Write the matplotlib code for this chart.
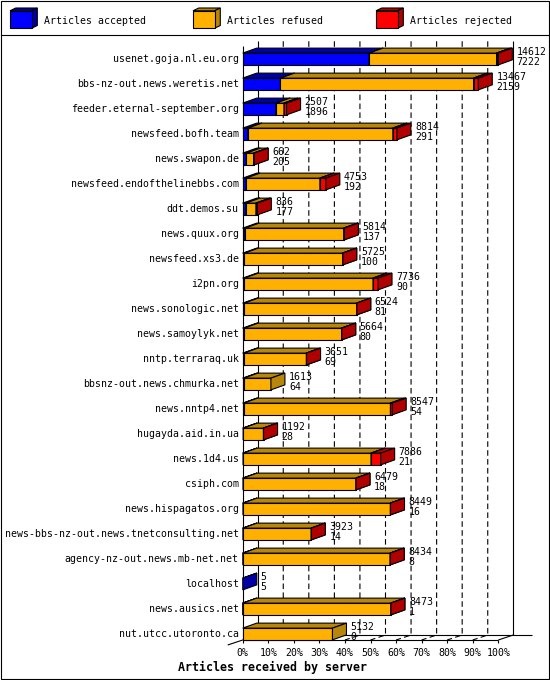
import matplotlib
matplotlib.use("Agg")
import matplotlib.pyplot as plt
from matplotlib.patches import Polygon, Rectangle
from matplotlib.lines import Line2D

# ---------------- data ----------------
servers = [
    "usenet.goja.nl.eu.org", "bbs-nz-out.news.weretis.net", "feeder.eternal-september.org",
    "newsfeed.bofh.team", "news.swapon.de", "newsfeed.endofthelinebbs.com", "ddt.demos.su",
    "news.quux.org", "newsfeed.xs3.de", "i2pn.org", "news.sonologic.net", "news.samoylyk.net",
    "nntp.terraraq.uk", "bbsnz-out.news.chmurka.net", "news.nntp4.net", "hugayda.aid.in.ua",
    "news.1d4.us", "csiph.com", "news.hispagatos.org", "news-bbs-nz-out.news.tnetconsulting.net",
    "agency-nz-out.news.mb-net.net", "localhost", "news.ausics.net", "nut.utcc.utoronto.ca",
]
totals = [14612, 13467, 2507, 8814, 662, 4753, 836, 5814, 5725, 7736, 6524, 5664,
          3651, 1613, 8547, 1192, 7886, 6479, 8449, 3923, 8434, 5, 8473, 5132]
accepted = [7222, 2159, 1896, 291, 205, 192, 177, 137, 100, 90, 81, 80,
            69, 64, 54, 28, 21, 18, 16, 14, 8, 5, 1, 0]
refused = [7290, 11038, 461, 8293, 417, 4221, 579, 5637, 5610, 7361, 6433, 5574,
           3572, 1549, 8393, 1159, 7315, 6456, 8428, 3904, 8421, 0, 8469, 5132]
rejected = [100, 270, 150, 230, 40, 340, 80, 40, 15, 285, 10, 10,
            10, 0, 100, 5, 550, 5, 5, 5, 5, 0, 3, 0]
series_names = ["Articles accepted", "Articles refused", "Articles rejected"]
tick_labels = ["0%", "10%", "20%", "30%", "40%", "50%", "60%", "70%", "80%", "90%", "100%"]
x_title = "Articles received by server"

# ---------------- style ----------------
front_colors = ["#0000FF", "#FFB000", "#FF0000"]
dark_colors = ["#0000A8", "#B8860B", "#B00000"]
FONT = "DejaVu Sans Mono"
FS = 7.15
LW = 0.8
W, H = 550, 680

fig = plt.figure(figsize=(W / 100, H / 100), dpi=100)
fig.patch.set_facecolor("white")

# overlay axes in pixel units for frame, legend and title
ov = fig.add_axes([0, 0, 1, 1], zorder=0)
ov.set_xlim(0, W)
ov.set_ylim(H, 0)
ov.set_axis_off()

# main plotting axes: front plane
x_left, x_right = 242.7, 498.3
y_top, y_bot = 46.3, 640.0
ax = fig.add_axes([x_left / W, (H - y_bot) / H, (x_right - x_left) / W, (y_bot - y_top) / H], zorder=1)
ax.patch.set_alpha(0)
n = len(servers)
row_px = 25.0
bottom_row = (n - 1) + 0.24
top_row = bottom_row - (y_bot - y_top) / row_px
ax.set_xlim(0, 100)
ax.set_ylim(bottom_row, top_row)
ax.set_axis_off()

px_x = (x_right - x_left) / 100.0
AX_DX, AX_DY = 15 / px_x, 5 / row_px
B_DX, B_DY = 14 / px_x, 5 / row_px
BH = 0.47

maxv = max(totals)
pct = lambda v: v / maxv * 100.0

# ---------------- axes frame (3D) ----------------
def line(xs, ys, **kw):
    d = dict(color="black", lw=LW, clip_on=False, zorder=1, solid_capstyle="butt")
    d.update(kw)
    ax.add_line(Line2D(xs, ys, **d))

back_top = top_row - AX_DY
back_bot = bottom_row - AX_DY
# dashed gridlines on back wall and floor
for k in range(1, 10):
    p = k * 10
    line([p + AX_DX, p + AX_DX, p], [back_top, back_bot, bottom_row],
         linestyle=(0, (5, 3)), zorder=0.5)
line([0, 0], [top_row, bottom_row])
line([AX_DX, AX_DX], [back_top, back_bot])
line([100 + AX_DX, 100 + AX_DX], [back_top, back_bot])
line([AX_DX, (531.7 - x_left) / px_x], [back_bot, back_bot])
line([0, 100], [bottom_row, bottom_row])
line([100, 100 + AX_DX], [bottom_row, back_bot])
line([-AX_DX, 0, AX_DX], [bottom_row + AX_DY, bottom_row, back_bot])
for k, lab in enumerate(tick_labels):
    p = k * 10
    line([p, p], [bottom_row, bottom_row + 3 / row_px])
    ax.annotate(lab, xy=(p, bottom_row), xytext=(0, -13), textcoords="offset pixels",
                ha="center", va="center", fontsize=FS, family=FONT, annotation_clip=False)

# ---------------- bars ----------------
def box(x0, x1, y, fc, dc, z):
    yt, yb = y - BH / 2, y + BH / 2
    kw = dict(ec="black", lw=LW, clip_on=False, zorder=z, joinstyle="miter")
    ax.add_patch(Rectangle((x0, yt), max(x1 - x0, 1e-3), BH, fc=fc, **kw))
    ax.add_patch(Polygon([(x0, yt), (x1, yt), (x1 + B_DX, yt - B_DY), (x0 + B_DX, yt - B_DY)],
                         closed=True, fc=dc, **kw))
    ax.add_patch(Polygon([(x1, yt), (x1 + B_DX, yt - B_DY), (x1 + B_DX, yb - B_DY), (x1, yb)],
                         closed=True, fc=dc, **kw))

for i in range(n):
    segs = [accepted[i], refused[i], rejected[i]]
    start = 0.0
    for s, v in enumerate(segs):
        if v <= 0:
            continue
        x0, x1 = pct(start), pct(start + v)
        box(x0, x1, i, front_colors[s], dark_colors[s], 2)
        start += v
    ax.annotate(str(totals[i]), xy=(pct(totals[i]), i), xytext=(18, 7), textcoords="offset pixels",
                ha="left", va="center", fontsize=FS, family=FONT, annotation_clip=False, zorder=3)
    ax.annotate(str(accepted[i]), xy=(pct(totals[i]), i), xytext=(18, -3), textcoords="offset pixels",
                ha="left", va="center", fontsize=FS, family=FONT, annotation_clip=False, zorder=3)
    ax.annotate(servers[i], xy=(0, i), xytext=(-4, 0), textcoords="offset pixels",
                ha="right", va="center", fontsize=FS, family=FONT, annotation_clip=False)

# ---------------- frame, legend, title ----------------
ov.add_patch(Rectangle((0.5, 0.5), W - 1.5, H - 1.5, fill=False, ec="black", lw=LW))
ov.add_line(Line2D([0.5, W - 1], [35, 35], color="black", lw=LW))

leg_x = [10, 193, 376]
for s, name in enumerate(series_names):
    x0 = leg_x[s]
    fx0, fx1, fy0, fy1 = x0, x0 + 21.5, 10.8, 28.3
    dx, dy = 5.8, 2.8
    kw = dict(ec="black", lw=LW, joinstyle="miter")
    ov.add_patch(Polygon([(fx0, fy0), (fx1, fy0), (fx1 + dx, fy0 - dy), (fx0 + dx, fy0 - dy)],
                         closed=True, fc=dark_colors[s], **kw))
    ov.add_patch(Polygon([(fx1, fy0), (fx1 + dx, fy0 - dy), (fx1 + dx, fy1 - dy), (fx1, fy1)],
                         closed=True, fc=dark_colors[s], **kw))
    ov.add_patch(Rectangle((fx0, fy0), fx1 - fx0, fy1 - fy0, fc=front_colors[s], **kw))
    ov.text(x0 + 34.3, 20.5, name, ha="left", va="center", fontsize=FS, family=FONT)

ov.text(272, 667.5, x_title, ha="center", va="center", fontsize=8.4, family=FONT,
        fontweight="bold")

fig.savefig("out.png", dpi=100)
